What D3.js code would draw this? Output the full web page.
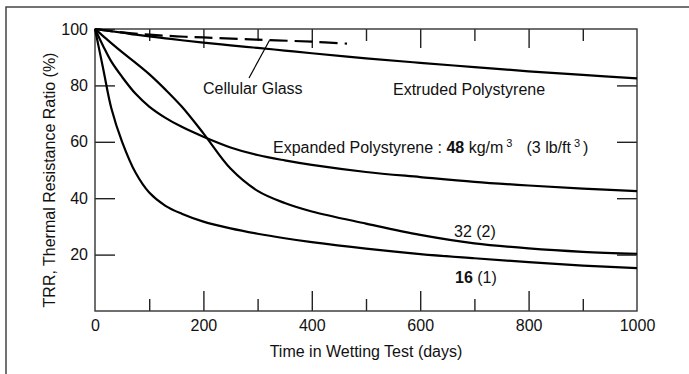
<!DOCTYPE html>
<html>
<head>
<meta charset="utf-8">
<script src="https://cdn.jsdelivr.net/npm/d3@7"></script>
<style>
  body { margin: 0; background: #fff; }
  svg text { font-family: "Liberation Sans", Arial, Helvetica, sans-serif; fill: #111; }
</style>
</head>
<body>
<div id="canvas"></div>
<script>
"use strict";

let svgWidth = 689;
let svgHeight = 374;

// shared sampling days for the polystyrene curves
let days = [0, 15, 30, 50, 75, 100, 130, 160, 200, 250, 300, 350, 400, 500, 600, 700, 800, 900, 1000];

let extrudedPS = [100, 99.6, 99.2, 98.7, 98, 97.4, 96.7, 96, 95.2, 94.2, 93.3, 92.35, 91.4, 89.6, 88, 86.5, 85, 83.7, 82.5];
let eps48 = [100, 94, 88.5, 83, 77, 72.5, 68.5, 65.3, 61.8, 58, 55.3, 53.4, 51.8, 49.3, 47.5, 45.8, 44.5, 43.4, 42.5];
let eps32 = [100, 97.5, 95, 91.8, 88, 84, 78.5, 72.5, 63, 50.5, 42.6, 38.3, 35.3, 31, 27, 24, 22.2, 21, 20.3];
let eps16 = [100, 86, 72, 60, 49, 42, 37.3, 34.5, 31.7, 29.3, 27.4, 25.8, 24.4, 22.1, 20.2, 18.7, 17.3, 16.1, 15.2];

// cellular glass (dashed, test stopped near 465 days)
let glassDays = [0, 50, 100, 150, 200, 300, 400, 465];
let glassTRR = [100, 98.8, 98, 97.4, 97, 96.2, 95.5, 94.8];

// ticks
let xLabelTicks = [0, 200, 400, 600, 800, 1000];
let xMajorTicks = [200, 400, 600, 800];
let xMinorTicks = [100, 300, 500, 700, 900];
let yLabelTicks = [20, 40, 60, 80, 100];
let yInnerTicks = [20, 40, 60, 80];

let svg = d3.select("#canvas")
  .append("svg")
  .attr("width", svgWidth)
  .attr("height", svgHeight);

// scanned page frame (top and left edges only)
svg.append("path")
  .attr("d", "M6,374 L6,7 L689,7")
  .attr("fill", "none")
  .attr("stroke", "#444")
  .attr("stroke-width", 1.5);

let xScale = d3.scaleLinear().domain([0, 1000]).range([95, 637]);
let yScale = d3.scaleLinear().domain([0, 100]).range([311, 29]);

let plotLeft = xScale(0), plotRight = xScale(1000);
let plotTop = yScale(100), plotBottom = yScale(0);

function styleAxis(g) {
  g.select(".domain").remove();
  g.selectAll(".tick line").attr("stroke", "#222").attr("stroke-width", 1.4);
  g.selectAll(".tick text").style("font-size", "16px").attr("fill", "#111");
}

/* bottom axis: labels + long inner ticks */
svg.append("g")
  .attr("transform", "translate(0," + plotBottom + ")")
  .call(d3.axisBottom(xScale).tickValues(xLabelTicks).tickFormat(d3.format("d")).tickSize(0).tickPadding(9))
  .call(styleAxis);
svg.append("g")
  .attr("transform", "translate(0," + plotBottom + ")")
  .call(d3.axisBottom(xScale).tickValues(xMajorTicks).tickSize(-20).tickFormat(""))
  .call(styleAxis);
svg.append("g")
  .attr("transform", "translate(0," + plotBottom + ")")
  .call(d3.axisBottom(xScale).tickValues(xMinorTicks).tickSize(-12).tickFormat(""))
  .call(styleAxis);

/* top axis: ticks hanging down */
svg.append("g")
  .attr("transform", "translate(0," + plotTop + ")")
  .call(d3.axisTop(xScale).tickValues(xMajorTicks).tickSize(-19).tickFormat(""))
  .call(styleAxis);
svg.append("g")
  .attr("transform", "translate(0," + plotTop + ")")
  .call(d3.axisTop(xScale).tickValues(xMinorTicks).tickSize(-12).tickFormat(""))
  .call(styleAxis);

/* left axis */
svg.append("g")
  .attr("transform", "translate(" + plotLeft + ",0)")
  .call(d3.axisLeft(yScale).tickValues(yLabelTicks).tickSize(-20).tickPadding(7))
  .call(styleAxis);

/* right axis: inner ticks only */
svg.append("g")
  .attr("transform", "translate(" + plotRight + ",0)")
  .call(d3.axisRight(yScale).tickValues(yInnerTicks).tickSize(-20).tickFormat(""))
  .call(styleAxis);

// plot frame
svg.append("rect")
  .attr("x", plotLeft)
  .attr("y", plotTop)
  .attr("width", plotRight - plotLeft)
  .attr("height", plotBottom - plotTop)
  .attr("fill", "none")
  .attr("stroke", "#333")
  .attr("stroke-width", 1.4);

/* curves */
let line = d3.line()
  .x(function(d){ return xScale(d[0]); })
  .y(function(d){ return yScale(d[1]); })
  .curve(d3.curveCatmullRom.alpha(0.5));

let solidSeries = [extrudedPS, eps48, eps32, eps16];
solidSeries.forEach(function(vals){
  svg.append("path")
    .datum(days.map(function(d, i){ return [d, vals[i]]; }))
    .attr("d", line)
    .attr("fill", "none")
    .attr("stroke", "#000")
    .attr("stroke-width", 2.2);
});

svg.append("path")
  .datum(glassDays.map(function(d, i){ return [d, glassTRR[i]]; }))
  .attr("d", line)
  .attr("fill", "none")
  .attr("stroke", "#000")
  .attr("stroke-width", 2.2)
  .attr("stroke-dasharray", "18,7");

/* labels */
function label(x, y, parts) {
  let t = svg.append("text")
    .attr("x", x)
    .attr("y", y)
    .style("font-size", "16px");
  parts.forEach(function(p){
    let s = t.append("tspan").text(p.text);
    if (p.bold) s.style("font-weight", "bold");
    if (p.sup) s.attr("baseline-shift", "super").style("font-size", "11px");
    if (p.dx) s.attr("dx", p.dx);
  });
  return t;
}

label(203, 94, [{ text: "Cellular Glass" }]);
label(393, 95, [{ text: "Extruded Polystyrene" }]);
label(273, 153, [
  { text: "Expanded Polystyrene : " },
  { text: "48", bold: true },
  { text: " kg/m" },
  { text: "3", sup: true, dx: 3 },
  { text: "(3 lb/ft", dx: 14 },
  { text: "3", sup: true, dx: 3 },
  { text: ")", dx: 3 }
]);
label(454, 237, [{ text: "32 (2)" }]);
label(455, 283, [{ text: "16", bold: true }, { text: " (1)" }]);

// leader from "Cellular Glass" to its dashed curve
svg.append("line")
  .attr("x1", 249)
  .attr("y1", 78)
  .attr("x2", xScale(322))
  .attr("y2", yScale(96))
  .attr("stroke", "#000")
  .attr("stroke-width", 1.2);

/* axis titles */
svg.append("text")
  .attr("x", (plotLeft + plotRight) / 2)
  .attr("y", 357)
  .attr("text-anchor", "middle")
  .style("font-size", "16px")
  .text("Time in Wetting Test (days)");

svg.append("text")
  .attr("transform", "translate(55,180) rotate(-90)")
  .attr("text-anchor", "middle")
  .style("font-size", "16px")
  .text("TRR, Thermal Resistance Ratio (%)");
</script>
</body>
</html>
